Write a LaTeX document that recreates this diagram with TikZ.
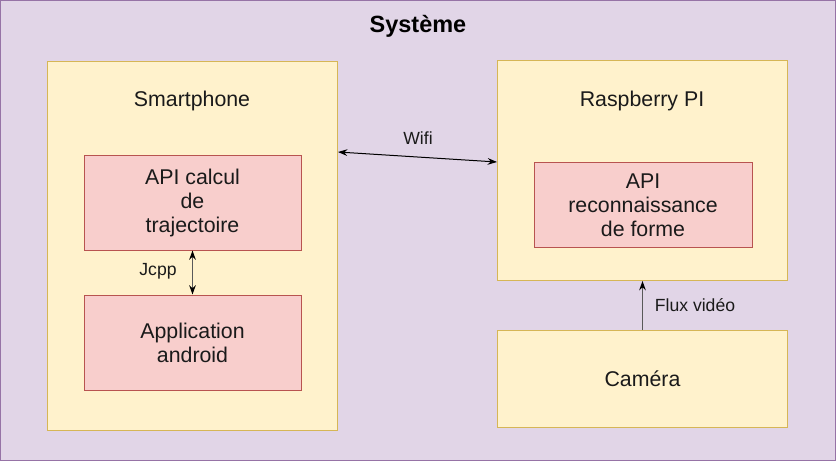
\documentclass[tikz,border=0pt]{standalone}
\usepackage{fontspec}
\setmainfont{Liberation Sans}
\usetikzlibrary{arrows.meta}

\definecolor{sysfill}{HTML}{E1D5E7}
\definecolor{sysline}{HTML}{9673A6}
\definecolor{hwfill}{HTML}{FFF2CC}
\definecolor{hwline}{HTML}{D6B656}
\definecolor{swfill}{HTML}{F8CECC}
\definecolor{swline}{HTML}{B85450}
\definecolor{txtcol}{HTML}{1A1A1A}

\tikzset{every picture/.style={line width=0.75pt}}
\tikzset{
  hwbox/.style={draw=hwline,fill=hwfill,text=txtcol,inner sep=0pt},
  swbox/.style={draw=swline,fill=swfill,text=txtcol,align=center,inner sep=0pt,
    font=\fontsize{16}{18}\selectfont},
  boxtext/.style={text=txtcol,font=\fontsize{16}{18}\selectfont},
  linktext/.style={text=txtcol,font=\fontsize{13.2}{15}\selectfont},
  link/.style={draw=black!65,{Stealth[black,length=7pt,width=5pt]}-{Stealth[black,length=7pt,width=5pt]}}
}

\begin{document}
\begin{tikzpicture}[x=0.75pt,y=0.75pt,yscale=-1,xscale=1]
\useasboundingbox (0,0) rectangle (836,461);

%Shape: Rectangle [id:systeme]
\draw [draw=sysline,fill=sysfill] (0.5,0.5) rectangle (835.5,460.5) ;
% Text Node
\draw (418,26) node [font=\bfseries\fontsize{17.6}{20}\selectfont] {Système};

%Shape: Rectangle [id:smartphone]
\node [hwbox,minimum width=217.5pt,minimum height=276.75pt] (sp) at (192.5,245.5) {};
%Shape: Rectangle [id:raspberry]
\node [hwbox,minimum width=217.5pt,minimum height=165pt] (rp) at (642.5,170.5) {};
%Shape: Rectangle [id:camera]
\node [hwbox,boxtext,minimum width=217.5pt,minimum height=72.75pt] (cam) at (642.5,378.5) {Caméra};

%Shape: Rectangle [id:apicalcul]
\node [swbox,minimum width=162.75pt,minimum height=71.25pt] (calc) at (192.5,202.5) {API calcul\\de\\trajectoire};
%Shape: Rectangle [id:appandroid]
\node [swbox,minimum width=162.75pt,minimum height=71.25pt] (app) at (192.5,342.5) {Application\\android};
%Shape: Rectangle [id:apireco]
\node [swbox,minimum width=163.5pt,minimum height=63.75pt] (reco) at (643,205) {API\\reconnaissance\\de forme};

% Text Node
\draw (192,101) node [boxtext] {Smartphone};
% Text Node
\draw (642,101) node [boxtext] {Raspberry PI};

%Straight Lines [id:wifi]
\draw [link,draw=black] (sp.east |- 0,152) -- (rp.west |- 0,162) ;
%Straight Lines [id:jcpp]
\draw [link] (calc.south) -- (app.north) ;
%Straight Lines [id:flux]
\draw [draw=black!65,-{Stealth[black,length=7pt,width=5pt]}] (cam.north) -- (rp.south) ;

% Text Node
\draw (418,138) node [linktext] {Wifi};
% Text Node
\draw (158,271) node [linktext] {Jcpp};
% Text Node
\draw (695,305) node [linktext] {Flux vidéo};

\end{tikzpicture}
\end{document}
